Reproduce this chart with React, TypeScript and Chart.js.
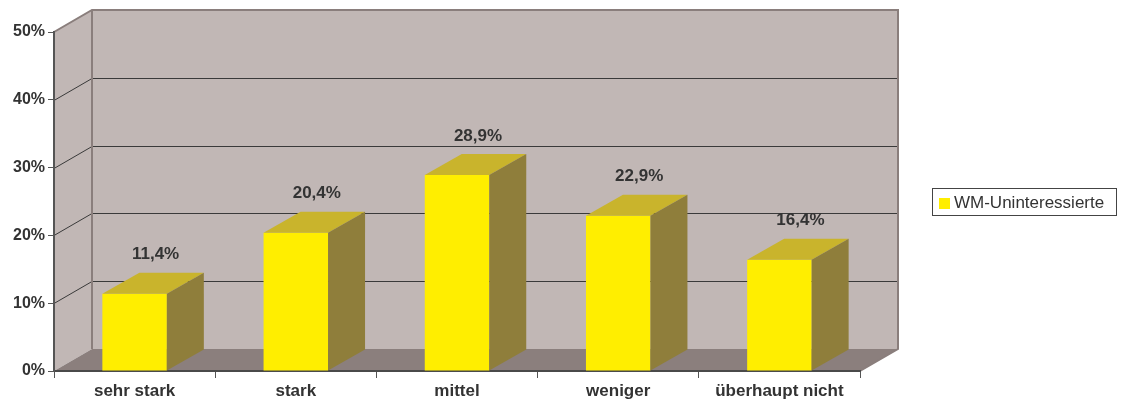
import React, { useEffect, useRef } from 'react';
import { Chart, registerables } from 'chart.js';

Chart.register(...registerables);

const categories = ['sehr stark', 'stark', 'mittel', 'weniger', 'überhaupt nicht'];
const seriesName = 'WM-Uninteressierte';
const values = [11.4, 20.4, 28.9, 22.9, 16.4];
const yTicks = [0, 10, 20, 30, 40, 50];

const FONT = 'Arial, "Liberation Sans", Helvetica, sans-serif';
const DX = 38;
const DY = -22;
const BDX = 37;
const BDY = -21;

const WALL = '#c1b7b5';
const FLOOR = '#8b7f7d';
const EDGE = '#8a7e7c';
const GRID = '#3a3a3a';
const FRONT = '#ffee00';
const TOP = '#c9b42c';
const SIDE = '#8f7e3b';
const TEXT = '#333333';

function poly(ctx: CanvasRenderingContext2D, pts: number[][], fill: string) {
  ctx.beginPath();
  ctx.moveTo(pts[0][0], pts[0][1]);
  for (let i = 1; i < pts.length; i++) ctx.lineTo(pts[i][0], pts[i][1]);
  ctx.closePath();
  ctx.fillStyle = fill;
  ctx.fill();
}

function line(ctx: CanvasRenderingContext2D, pts: number[][], color: string, w: number) {
  ctx.beginPath();
  ctx.moveTo(pts[0][0], pts[0][1]);
  for (let i = 1; i < pts.length; i++) ctx.lineTo(pts[i][0], pts[i][1]);
  ctx.strokeStyle = color;
  ctx.lineWidth = w;
  ctx.stroke();
}

const threeD = {
  id: 'threeD',
  beforeDraw(chart: any) {
    const { ctx, chartArea: a, scales } = chart;
    const ys = scales.y;
    const L = a.left, R = a.right, T = a.top, B = a.bottom;
    ctx.save();
    // left wall
    poly(ctx, [[L, B], [L, T], [L + DX, T + DY], [L + DX, B + DY]], WALL);
    // back wall
    poly(ctx, [[L + DX, T + DY], [R + DX, T + DY], [R + DX, B + DY], [L + DX, B + DY]], WALL);
    // floor
    poly(ctx, [[L, B], [R, B], [R + DX, B + DY], [L + DX, B + DY]], FLOOR);
    // grid lines
    const max = yTicks[yTicks.length - 1];
    for (const v of yTicks) {
      if (v <= 0 || v >= max) continue;
      const py = Math.round(ys.getPixelForValue(v)) + 0.5;
      line(ctx, [[L, py], [L + DX, py + DY], [R + DX, py + DY]], GRID, 1);
    }
    // edges
    line(ctx, [[L, T], [L + DX, T + DY], [R + DX, T + DY], [R + DX, B + DY], [R, B]], EDGE, 2);
    line(ctx, [[L + DX, T + DY], [L + DX, B + DY]], EDGE, 2);
    ctx.restore();
  },
  afterDatasetsDraw(chart: any) {
    const { ctx } = chart;
    const meta = chart.getDatasetMeta(0);
    ctx.save();
    meta.data.forEach((bar: any, i: number) => {
      const { x, y, base, width } = bar.getProps(['x', 'y', 'base', 'width'], true);
      const l = x - width / 2;
      const r = x + width / 2;
      // top face
      poly(ctx, [[l, y], [r, y], [r + BDX, y + BDY], [l + BDX, y + BDY]], TOP);
      // side face
      poly(ctx, [[r, y], [r + BDX, y + BDY], [r + BDX, base + BDY], [r, base]], SIDE);
      // label
      ctx.fillStyle = TEXT;
      ctx.font = `bold 17px ${FONT}`;
      ctx.textAlign = 'center';
      ctx.textBaseline = 'middle';
      ctx.fillText(values[i].toFixed(1).replace('.', ',') + '%', x + 21, y + BDY - 18);
    });
    ctx.restore();
  },
  afterDraw(chart: any) {
    const { ctx } = chart;
    ctx.save();
    const bx = 932.5, by = 188.5, bw = 184, bh = 27;
    ctx.strokeStyle = '#444444';
    ctx.lineWidth = 1;
    ctx.strokeRect(bx, by, bw, bh);
    ctx.fillStyle = FRONT;
    ctx.fillRect(939, 198, 11, 11);
    ctx.fillStyle = TEXT;
    ctx.font = `17px ${FONT}`;
    ctx.textAlign = 'left';
    ctx.textBaseline = 'middle';
    ctx.fillText(seriesName, 954, by + bh / 2 + 1);
    ctx.restore();
  },
};

export default function App() {
  const ref = useRef<HTMLCanvasElement | null>(null);
  useEffect(() => {
    if (!ref.current) return;
    const chart = new Chart(ref.current, {
      type: 'bar',
      data: {
        labels: categories,
        datasets: [
          {
            label: seriesName,
            data: values,
            backgroundColor: FRONT,
            borderWidth: 0,
            categoryPercentage: 1,
            barPercentage: 0.4,
          },
        ],
      },
      options: {
        responsive: false,
        animation: false,
        layout: { padding: { top: 32, right: 264, bottom: 0, left: 0 } },
        plugins: { legend: { display: false }, tooltip: { enabled: false } },
        scales: {
          x: {
            grid: {
              offset: true,
              drawOnChartArea: false,
              drawTicks: true,
              tickLength: 7,
              color: '#555555',
            },
            border: { display: true, color: '#4a4a4a', width: 2 },
            ticks: {
              color: TEXT,
              font: { family: FONT, size: 17, weight: 'bold' },
              padding: 3,
              maxRotation: 0,
              autoSkip: false,
            },
            afterFit: (s: any) => {
              s.height = 29;
            },
          },
          y: {
            min: 0,
            max: 50,
            ticks: {
              stepSize: 10,
              color: TEXT,
              font: { family: FONT, size: 16, weight: 'bold' },
              padding: 3,
              callback: (v: any) => v + '%',
            },
            grid: {
              drawOnChartArea: false,
              drawTicks: true,
              tickLength: 6,
              color: '#555555',
            },
            border: { display: true, color: '#555555', width: 2 },
            afterFit: (s: any) => {
              s.width = 54;
            },
          },
        },
      },
      plugins: [threeD],
    });
    return () => chart.destroy();
  }, []);
  return (
    <div style={{ position: 'absolute', left: 0, top: 0, width: 1124, height: 400, background: '#ffffff' }}>
      <canvas ref={ref} width={1124} height={400} style={{ display: 'block' }} />
    </div>
  );
}
